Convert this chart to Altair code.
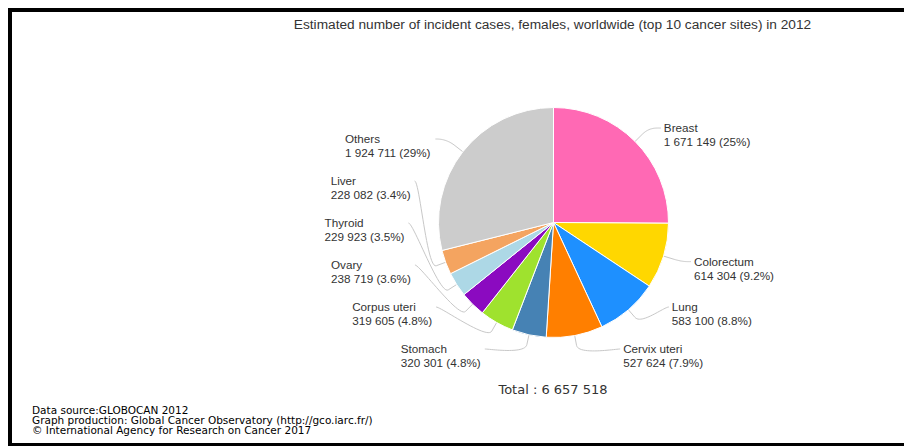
import math
import altair as alt
import pandas as pd

# ---------------- data ----------------
sites = ["Breast", "Colorectum", "Lung", "Cervix uteri", "Stomach",
         "Corpus uteri", "Ovary", "Thyroid", "Liver", "Others"]
cases = [1671149, 614304, 583100, 527624, 320301,
         319605, 238719, 229923, 228082, 1924711]
colors = ["#FF69B4", "#FFD700", "#1E90FF", "#FF7F00", "#4682B4",
          "#9FE22E", "#8B0AC0", "#ADD8E6", "#F4A460", "#CCCCCC"]
title_text = "Estimated number of incident cases, females, worldwide (top 10 cancer sites) in 2012"
footer_lines = ["Data source:GLOBOCAN 2012",
                "Graph production: Global Cancer Observatory (http://gco.iarc.fr/)",
                "\u00a9 International Agency for Research on Cancer 2017"]

# ---------------- layout ----------------
W, H = 904, 448
CX, CY, R = 553.5, 222.5, 115
total = sum(cases)


def fmt_num(v):
    return f"{v:,}".replace(",", " ")


def fmt_pct(p):
    return f"{p:.0f}%" if p >= 10 else f"{p:.1f}%"


# approximate Liberation Sans advance widths (em) for the numbers line
LS = {" ": 0.278, "(": 0.333, ")": 0.333, "%": 0.889, ".": 0.278}
LAB_FS = 11.7


def text_w(s):
    return sum(LS.get(c, 0.556) for c in s) * LAB_FS


def distribute(targets, gap, lo, hi):
    groups = []

    def place(g):
        top = g["sum"] / g["n"] - (g["n"] - 1) * gap / 2
        return max(lo, min(top, hi - (g["n"] - 1) * gap))

    for t in targets:
        groups.append({"n": 1, "sum": t})
        while len(groups) > 1:
            g, p = groups[-1], groups[-2]
            if place(p) + p["n"] * gap > place(g):
                p["n"] += g["n"]
                p["sum"] += g["sum"]
                groups.pop()
            else:
                break
    out = []
    for g in groups:
        top = place(g)
        out += [top + i * gap for i in range(g["n"])]
    return out


cum = 0
mids = []
for v in cases:
    mids.append((cum + v / 2) / total * 2 * math.pi)
    cum += v

target = [-math.cos(a) * 134 for a in mids]
pos_y = {}
for side in (1, -1):
    idx = [i for i, a in enumerate(mids) if (math.sin(a) > 0) == (side == 1)]
    idx.sort(key=lambda i: target[i])
    ys = distribute([target[i] for i in idx], 42, -150, 126.5)
    for i, y in zip(idx, ys):
        pos_y[i] = y

label_rows, conn_rows = [], []
for i, a in enumerate(mids):
    side = 1 if math.sin(a) > 0 else -1
    y = pos_y[i]
    xa = math.sqrt(max(143 ** 2 - y ** 2, 0))
    line2 = f"{fmt_num(cases[i])} ({fmt_pct(cases[i] / total * 100)})"
    if side == 1:
        tx = CX + xa + 3
        lx = CX + xa
    else:
        tx = CX - xa - 6 - text_w(line2)
        lx = CX - xa - 2
    ly = CY + y
    label_rows.append({"site": sites[i], "x": tx, "y1": ly, "y2": ly + 14,
                       "line1": sites[i], "line2": line2})
    # connector: soft cubic from label to break point, then straight to slice
    tx_, ty_ = CX + R * math.sin(a), CY - R * math.cos(a)
    bx, by = CX + (R + 10) * math.sin(a), CY - (R + 10) * math.cos(a)
    c1x, c1y = lx - side * 5, ly
    c2x, c2y = 2 * bx - tx_, 2 * by - ty_
    k = 0
    n = 24
    for j in range(n + 1):
        t = j / n
        u = 1 - t
        px = u**3 * lx + 3 * u * u * t * c1x + 3 * u * t * t * c2x + t**3 * bx
        py = u**3 * ly + 3 * u * u * t * c1y + 3 * u * t * t * c2y + t**3 * by
        conn_rows.append({"site": sites[i], "k": k, "x": px, "y": py})
        k += 1
    conn_rows.append({"site": sites[i], "k": k, "x": tx_, "y": ty_})

pie_df = pd.DataFrame({"site": sites, "cases": cases, "order": list(range(len(sites)))})
lab_df = pd.DataFrame(label_rows)
con_df = pd.DataFrame(conn_rows)

xs = alt.Scale(domain=[0, W], range=[0, W])
ys = alt.Scale(domain=[0, H], range=[0, H])

pie = alt.Chart(pie_df).mark_arc(outerRadius=R, stroke="white", strokeWidth=1).encode(
    theta=alt.Theta("cases:Q", stack=True),
    order=alt.Order("order:Q"),
    color=alt.Color("site:N", scale=alt.Scale(domain=sites, range=colors), legend=None),
    x=alt.value(CX), y=alt.value(CY),
)

conn = alt.Chart(con_df).mark_line(color="#C8C8C8", strokeWidth=1).encode(
    x=alt.X("x:Q", scale=xs, axis=None),
    y=alt.Y("y:Q", scale=ys, axis=None),
    detail="site:N",
    order="k:Q",
)

lab1 = alt.Chart(lab_df).mark_text(align="left", baseline="middle", font="Liberation Sans",
                                   fontSize=LAB_FS, color="#333333").encode(
    x=alt.X("x:Q", scale=xs, axis=None), y=alt.Y("y1:Q", scale=ys, axis=None), text="line1:N")
lab2 = alt.Chart(lab_df).mark_text(align="left", baseline="middle", font="Liberation Sans",
                                   fontSize=LAB_FS, color="#333333").encode(
    x=alt.X("x:Q", scale=xs, axis=None), y=alt.Y("y2:Q", scale=ys, axis=None), text="line2:N")

title_df = pd.DataFrame({"t": [title_text], "x": [552.5], "y": [25]})
title = alt.Chart(title_df).mark_text(align="center", baseline="middle", font="Liberation Sans",
                                      fontSize=13.7, color="#333333").encode(
    x=alt.X("x:Q", scale=xs, axis=None), y=alt.Y("y:Q", scale=ys, axis=None), text="t:N")

total_df = pd.DataFrame({"t": [f"Total : {fmt_num(total)}"], "x": [553], "y": [390]})
tot = alt.Chart(total_df).mark_text(align="center", baseline="middle", font="DejaVu Sans",
                                    fontSize=13, color="#333333").encode(
    x=alt.X("x:Q", scale=xs, axis=None), y=alt.Y("y:Q", scale=ys, axis=None), text="t:N")

foot_df = pd.DataFrame({"t": footer_lines, "x": [32] * 3, "y": [411, 421, 431]})
foot = alt.Chart(foot_df).mark_text(align="left", baseline="middle", font="DejaVu Sans",
                                    fontSize=10.5, color="#000000").encode(
    x=alt.X("x:Q", scale=xs, axis=None), y=alt.Y("y:Q", scale=ys, axis=None), text="t:N")

frame_top = alt.Chart(pie_df).mark_rule(color="black", strokeWidth=4).encode(
    x=alt.value(8), x2=alt.value(W), y=alt.value(10))
frame_left = alt.Chart(pie_df).mark_rule(color="black", strokeWidth=4).encode(
    x=alt.value(10), y=alt.value(8), y2=alt.value(446))
frame_bot = alt.Chart(pie_df).mark_rule(color="black", strokeWidth=3).encode(
    x=alt.value(8), x2=alt.value(W), y=alt.value(444.5))

chart = alt.layer(conn, pie, lab1, lab2, title, tot, foot, frame_top, frame_left, frame_bot).properties(
    width=W, height=H, padding=0, autosize=alt.AutoSizeParams(type="none"),
    background="white",
).configure_view(stroke=None)

chart.save("out.html", embed_options={"renderer": "svg", "actions": False})
